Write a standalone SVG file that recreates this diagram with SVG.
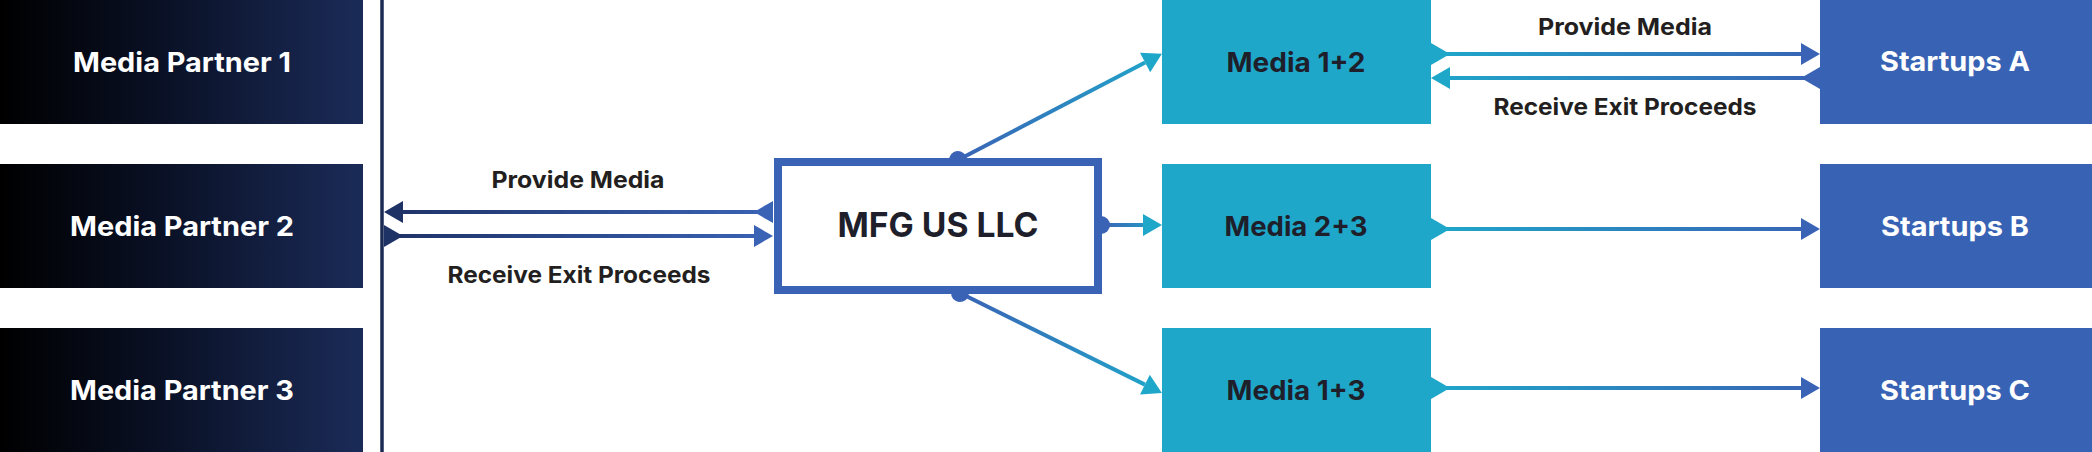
<svg xmlns="http://www.w3.org/2000/svg" width="2092" height="452" viewBox="0 0 2092 452">
<style>
.lbl{font-family:Inter,"Liberation Sans",sans-serif;font-weight:700;text-anchor:middle}
.node{font-size:27px}
.mp{fill:#ffffff}
.md{fill:#1e1f2a}
.st{fill:#ffffff}
.edge{font-size:23px;fill:#231f20}
.ln{fill:none;stroke-width:4}
</style>
<defs>
<linearGradient id="gMP" x1="0" y1="0" x2="1" y2="0">
<stop offset="0" stop-color="#000000"/>
<stop offset="0.45" stop-color="#0a1126"/>
<stop offset="1" stop-color="#1b2b58"/>
</linearGradient>
<linearGradient id="gL1" gradientUnits="userSpaceOnUse" x1="384" y1="0" x2="773" y2="0">
<stop offset="0" stop-color="#1e3266"/>
<stop offset="1" stop-color="#3a63b5"/>
</linearGradient>
<linearGradient id="gR" gradientUnits="userSpaceOnUse" x1="1431" y1="0" x2="1820" y2="0">
<stop offset="0" stop-color="#1fa7ca"/>
<stop offset="1" stop-color="#3863b4"/>
</linearGradient>
<linearGradient id="gD1" gradientUnits="userSpaceOnUse" x1="958" y1="158" x2="1162" y2="54">
<stop offset="0" stop-color="#3a63b5"/>
<stop offset="1" stop-color="#1fa7ca"/>
</linearGradient>
<linearGradient id="gD2" gradientUnits="userSpaceOnUse" x1="1102" y1="0" x2="1162" y2="0">
<stop offset="0" stop-color="#3a63b5"/>
<stop offset="1" stop-color="#1fa7ca"/>
</linearGradient>
<linearGradient id="gD3" gradientUnits="userSpaceOnUse" x1="960" y1="294" x2="1162" y2="393">
<stop offset="0" stop-color="#3a63b5"/>
<stop offset="1" stop-color="#1fa7ca"/>
</linearGradient>
<marker id="aNavy" markerUnits="userSpaceOnUse" markerWidth="20" markerHeight="24" refX="0" refY="11" orient="auto" overflow="visible"><path d="M0,0 L19,11 L0,22 z" fill="#1e3266"/></marker>
<marker id="aBlue" markerUnits="userSpaceOnUse" markerWidth="20" markerHeight="24" refX="0" refY="11" orient="auto" overflow="visible"><path d="M0,0 L19,11 L0,22 z" fill="#3a63b5"/></marker>
<marker id="aCyan" markerUnits="userSpaceOnUse" markerWidth="20" markerHeight="24" refX="0" refY="11" orient="auto" overflow="visible"><path d="M0,0 L19,11 L0,22 z" fill="#1fa7ca"/></marker>
<marker id="tNavy" markerUnits="userSpaceOnUse" markerWidth="20" markerHeight="24" refX="0" refY="11" orient="auto" overflow="visible"><path d="M0,0 L19,11 L0,22 z" fill="#1e3266"/></marker>
<marker id="tBlue" markerUnits="userSpaceOnUse" markerWidth="20" markerHeight="24" refX="0" refY="11" orient="auto" overflow="visible"><path d="M0,0 L19,11 L0,22 z" fill="#3a63b5"/></marker>
<marker id="tCyan" markerUnits="userSpaceOnUse" markerWidth="20" markerHeight="24" refX="0" refY="11" orient="auto" overflow="visible"><path d="M0,0 L19,11 L0,22 z" fill="#1fa7ca"/></marker>
<marker id="dot" markerUnits="userSpaceOnUse" markerWidth="20" markerHeight="20" refX="10" refY="10" orient="auto" overflow="visible"><circle cx="10" cy="10" r="9" fill="#3a63b5"/></marker>
</defs>
<rect width="2092" height="452" fill="#ffffff"/>

<g id="connectors">
<path class="ln" d="M773,212 L403,212" stroke="url(#gL1)" marker-start="url(#tBlue)" marker-end="url(#aNavy)"/>
<path class="ln" d="M384,236 L754,236" stroke="url(#gL1)" marker-start="url(#tNavy)" marker-end="url(#aBlue)"/>
<path class="ln" d="M958,160 L1145.1,62.6" stroke="url(#gD1)" marker-start="url(#dot)" marker-end="url(#aCyan)"/>
<path class="ln" d="M1101,225 L1143,225" stroke="url(#gD2)" marker-start="url(#dot)" marker-end="url(#aCyan)"/>
<path class="ln" d="M960,293 L1144.9,384.6" stroke="url(#gD3)" marker-start="url(#dot)" marker-end="url(#aCyan)"/>
<path class="ln" d="M1431,54 L1801,54" stroke="url(#gR)" marker-start="url(#tCyan)" marker-end="url(#aBlue)"/>
<path class="ln" d="M1820,78 L1450,78" stroke="url(#gR)" marker-start="url(#tBlue)" marker-end="url(#aCyan)"/>
<path class="ln" d="M1431,229 L1801,229" stroke="url(#gR)" marker-start="url(#tCyan)" marker-end="url(#aBlue)"/>
<path class="ln" d="M1431,388 L1801,388" stroke="url(#gR)" marker-start="url(#tCyan)" marker-end="url(#aBlue)"/>
<text class="lbl edge" x="578" y="188" textLength="173" lengthAdjust="spacingAndGlyphs">Provide Media</text>
<text class="lbl edge" x="579" y="283" textLength="263" lengthAdjust="spacingAndGlyphs">Receive Exit Proceeds</text>
<text class="lbl edge" x="1625" y="35" textLength="174" lengthAdjust="spacingAndGlyphs">Provide Media</text>
<text class="lbl edge" x="1625" y="115" textLength="263" lengthAdjust="spacingAndGlyphs">Receive Exit Proceeds</text>
</g>

<g id="partner-bus">
<line x1="382" y1="0" x2="382" y2="452" stroke="#1b2a55" stroke-width="3.5"/>
</g>

<g id="media-partner-1">
<rect x="0" y="0" width="363" height="124" fill="url(#gMP)"/>
<text class="lbl node mp" x="182" y="72" textLength="218" lengthAdjust="spacingAndGlyphs">Media Partner 1</text>
</g>
<g id="media-partner-2">
<rect x="0" y="164" width="363" height="124" fill="url(#gMP)"/>
<text class="lbl node mp" x="182" y="236" textLength="224" lengthAdjust="spacingAndGlyphs">Media Partner 2</text>
</g>
<g id="media-partner-3">
<rect x="0" y="328" width="363" height="124" fill="url(#gMP)"/>
<text class="lbl node mp" x="182" y="400" textLength="224" lengthAdjust="spacingAndGlyphs">Media Partner 3</text>
</g>

<g id="mfg-us-llc">
<rect x="778" y="162" width="320" height="128" fill="#ffffff" stroke="#3a63b5" stroke-width="8"/>
<text class="lbl md" x="938" y="237" font-size="34" textLength="201" lengthAdjust="spacingAndGlyphs">MFG US LLC</text>
</g>

<g id="media-1-2">
<rect x="1162" y="0" width="269" height="124" fill="#1fa7ca"/>
<text class="lbl node md" x="1296" y="72" textLength="139" lengthAdjust="spacingAndGlyphs">Media 1+2</text>
</g>
<g id="media-2-3">
<rect x="1162" y="164" width="269" height="124" fill="#1fa7ca"/>
<text class="lbl node md" x="1296" y="236" textLength="143" lengthAdjust="spacingAndGlyphs">Media 2+3</text>
</g>
<g id="media-1-3">
<rect x="1162" y="328" width="269" height="124" fill="#1fa7ca"/>
<text class="lbl node md" x="1296" y="400" textLength="139" lengthAdjust="spacingAndGlyphs">Media 1+3</text>
</g>

<g id="startups-a">
<rect x="1820" y="0" width="272" height="124" fill="#3863b4"/>
<text class="lbl node st" x="1955" y="71" textLength="150" lengthAdjust="spacingAndGlyphs">Startups A</text>
</g>
<g id="startups-b">
<rect x="1820" y="164" width="272" height="124" fill="#3863b4"/>
<text class="lbl node st" x="1955" y="236" textLength="148" lengthAdjust="spacingAndGlyphs">Startups B</text>
</g>
<g id="startups-c">
<rect x="1820" y="328" width="272" height="124" fill="#3863b4"/>
<text class="lbl node st" x="1955" y="400" textLength="150" lengthAdjust="spacingAndGlyphs">Startups C</text>
</g>
</svg>
